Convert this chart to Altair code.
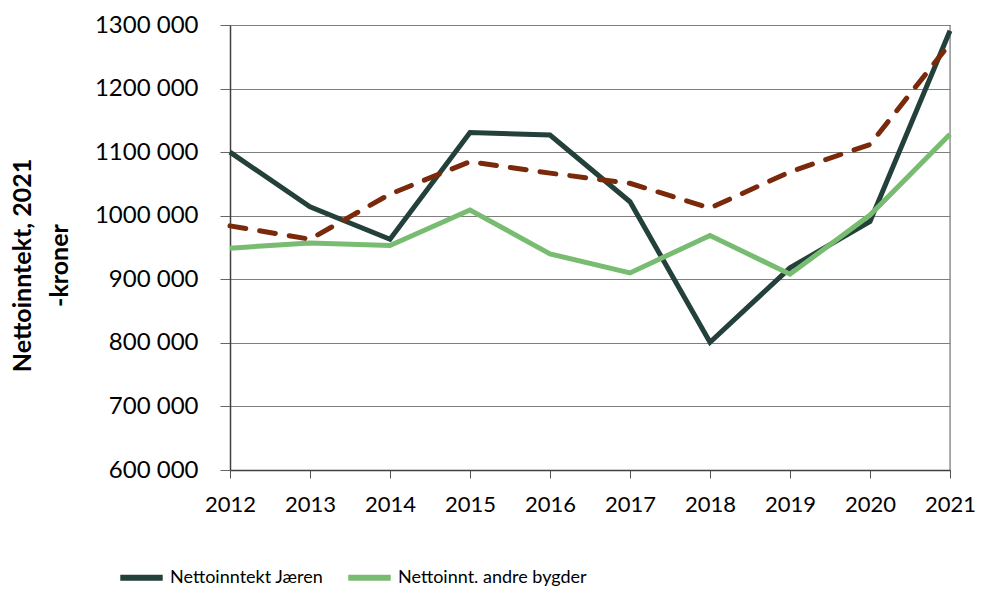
import altair as alt
import pandas as pd

years = [2012, 2013, 2014, 2015, 2016, 2017, 2018, 2019, 2020, 2021]
jaeren = [1100000, 1014000, 963000, 1131000, 1127000, 1022000, 801000, 918000, 991000, 1291000]
andre = [949000, 957000, 953000, 1009000, 940000, 910000, 969000, 908000, 1001000, 1128000]
trend = [984000, 963000, 1034000, 1085000, 1067000, 1051000, 1012000, 1069000, 1112000, 1271000]

series_names = ["Nettoinntekt Jæren", "Nettoinnt. andre bygder"]
series_colors = ["#23403a", "#77bc71"]
trend_color = "#7a2a0b"

rows = []
for y, a, b in zip(years, jaeren, andre):
    rows.append({"year": y, "value": a, "series": series_names[0]})
    rows.append({"year": y, "value": b, "series": series_names[1]})
df = pd.DataFrame(rows)
df_trend = pd.DataFrame({"year": years, "value": trend})

FONT = "Lato"

x_enc = alt.X("year:Q",
              scale=alt.Scale(domain=[2012, 2021], nice=False, zero=False),
              axis=alt.Axis(values=years, format="d", title=None, grid=False,
                            labelFontSize=22, labelFont=FONT, labelColor="#000",
                            labelOverlap=False, labelFlush=False, labelBound=False,
                            tickSize=8, tickColor="#555", domainColor="#404040",
                            domainWidth=1.5, labelPadding=16))
y_enc = alt.Y("value:Q",
              scale=alt.Scale(domain=[600000, 1300000], nice=False, zero=False),
              axis=alt.Axis(values=list(range(600000, 1300001, 100000)),
                            labelExpr="floor(datum.value/1000) + ' 000'",
                            title=["Nettoinntekt, 2021", "-kroner"],
                            titleFont=FONT, titleFontSize=25, titleFontWeight="bold",
                            titleColor="#000", titleLineHeight=37,
                            titleX=-195, titleY=240, titleAngle=-90, titleAlign="center",
                            labelFontSize=24, labelFont=FONT, labelColor="#000",
                            labelOverlap=False, labelFlush=False, labelBound=False,
                            tickSize=10, tickColor="#666", domainColor="#404040",
                            domainWidth=1.5, labelPadding=22,
                            grid=True, gridColor="#7f7f7f", gridWidth=1.2))

lines = alt.Chart(df).mark_line(strokeWidth=5).encode(
    x=x_enc, y=y_enc,
    color=alt.Color("series:N",
                    scale=alt.Scale(domain=series_names, range=series_colors),
                    sort=series_names,
                    legend=alt.Legend(title=None, orient="none", direction="horizontal",
                                      legendX=-113, legendY=528,
                                      symbolType="stroke", symbolSize=1800,
                                      symbolStrokeWidth=6, labelFont=FONT,
                                      labelFontSize=18, labelColor="#000",
                                      columnPadding=12, labelOffset=4,
                                      labelLimit=400))
)

trend_line = alt.Chart(df_trend).mark_line(strokeWidth=5, strokeDash=[16, 14],
                                           strokeCap="round", color=trend_color).encode(
    x="year:Q", y="value:Q"
)

right_edge = alt.Chart(pd.DataFrame({"year": [years[-1]]})).mark_rule(
    color="#7f7f7f", strokeWidth=1.2).encode(x="year:Q")

chart = alt.layer(right_edge, lines, trend_line).properties(
    width=720, height=445,
    autosize=alt.AutoSizeParams(type="none"),
    padding={"left": 222, "top": 17, "right": 26, "bottom": 120},
).configure_view(stroke=None).configure(background="white")

chart.save("out.html", embed_options={"renderer": "svg", "actions": False})
